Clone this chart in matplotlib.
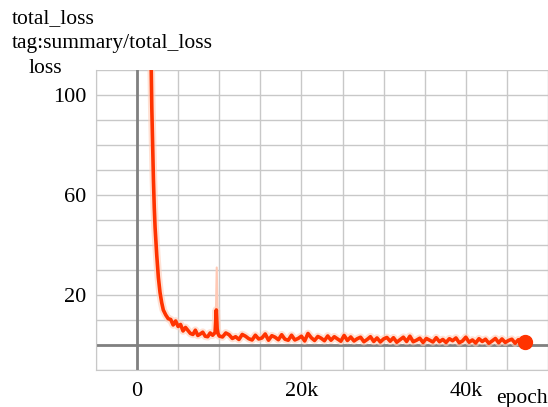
import numpy as np
import matplotlib
matplotlib.use('Agg')
from matplotlib import pyplot as plt

plt.rcParams['font.family'] = ['Liberation Serif', 'DejaVu Serif']

# early part of training, loss drops fast
steps_a = [1700, 1800, 1900, 2000, 2100, 2200, 2400, 2600, 2800, 3000,
           3200, 3500, 3800, 4100, 4400, 4700, 5000, 5300, 5600, 5900,
           6200, 6500, 6800, 7100, 7400, 7700, 8000, 8300, 8600, 8900,
           9200, 9500, 9650, 9750, 9850, 10000]
loss_a = [118, 95, 80, 66, 55, 47, 36, 27, 21, 17,
          14, 12, 10.5, 10.2, 8.0, 9.6, 7.4, 8.2, 5.6, 7.0,
          5.8, 4.6, 4.2, 5.9, 3.8, 4.4, 5.1, 3.5, 3.3, 4.8,
          3.9, 5.0, 14, 6.5, 4.6, 3.6]

# flat tail, one value every 400 steps from 10.4k
tail_start, tail_step = 10400, 400
loss_b = [3.2, 4.8, 4.1, 2.6, 3.3, 2.2, 4.2, 3.5, 2.5, 2.0,
          3.9, 2.4, 2.8, 4.4, 1.9, 3.7, 3.1, 2.1, 4.1, 2.3,
          1.9, 3.9, 2.0, 2.6, 3.5, 1.6, 4.6, 2.9, 1.8, 3.4,
          2.7, 1.7, 3.6, 1.9, 3.3, 2.4, 1.5, 3.8, 1.8, 3.2,
          1.6, 2.5, 3.1, 1.3, 2.2, 3.3, 1.4, 2.8, 1.2, 2.4,
          3.0, 1.5, 2.9, 1.1, 2.1, 3.1, 1.4, 3.5, 1.3, 1.9,
          2.7, 1.0, 2.6, 1.9, 1.2, 2.9, 1.3, 2.2, 1.0, 2.5,
          1.7, 2.8, 0.9, 1.6, 3.1, 1.1, 2.0, 0.8, 2.5, 1.4,
          2.3, 0.7, 1.6, 2.6, 0.9, 2.4, 1.0, 1.8, 2.3, 0.7,
          2.1, 0.8, 1.2]

# raw (unsmoothed) spike, drawn faint
spike_steps = [9550, 9700, 9850]
spike_loss = [4.5, 31, 4.5]

x_ticks = [0, 20000, 40000]
x_ticklabels = ['0', '20k', '40k']
y_ticks = [20, 60, 100]

steps = np.array(steps_a + [tail_start + i * tail_step for i in range(len(loss_b))])
loss = np.array(loss_a + loss_b)

fig = plt.figure(figsize=(5.48, 4.07), dpi=100)
ax = fig.add_axes([0.175, 0.091, 0.825, 0.737])
ax.set_xlim(-5000, 50000)
ax.set_ylim(-10, 110)

# grid every 5k / 10
ax.set_xticks(np.arange(-5000, 50001, 5000), minor=True)
ax.set_yticks(np.arange(-10, 111, 10), minor=True)
ax.set_xticks(x_ticks)
ax.set_xticklabels(x_ticklabels)
ax.set_yticks(y_ticks)
ax.grid(which='both', color='#c8c8c8', lw=1)
ax.tick_params(which='both', length=0, labelsize=16)
ax.tick_params(axis='x', pad=9)
ax.tick_params(axis='y', pad=7)
for s in ['top', 'right']:
    ax.spines[s].set_visible(False)
for s in ['left', 'bottom']:
    ax.spines[s].set_color('#c8c8c8')

ax.axvline(0, color='#808080', lw=2, zorder=2)
ax.axhline(0, color='#808080', lw=2, zorder=2)

ax.plot(spike_steps, spike_loss, color='#ffc9b5', lw=1.5, zorder=3)
ax.plot(steps, loss, color='#ffcdb8', lw=5.5, alpha=0.6, zorder=3, solid_joinstyle='round')
ax.plot(steps, loss, color='#ff3300', lw=2.6, zorder=4, solid_joinstyle='round')
ax.plot(steps[-1:], loss[-1:], 'o', color='#ff3300', ms=10, zorder=5, clip_on=False)

fig.text(0.022, 0.955, 'total_loss', fontsize=15.5, va='center')
fig.text(0.022, 0.892, 'tag:summary/total_loss', fontsize=15.5, va='center')
fig.text(0.083, 0.832, 'loss', fontsize=15.5, va='center', ha='center')
fig.text(0.952, 0.022, 'epoch', fontsize=15.5, va='center', ha='center')

fig.savefig('out.png', dpi=100)
